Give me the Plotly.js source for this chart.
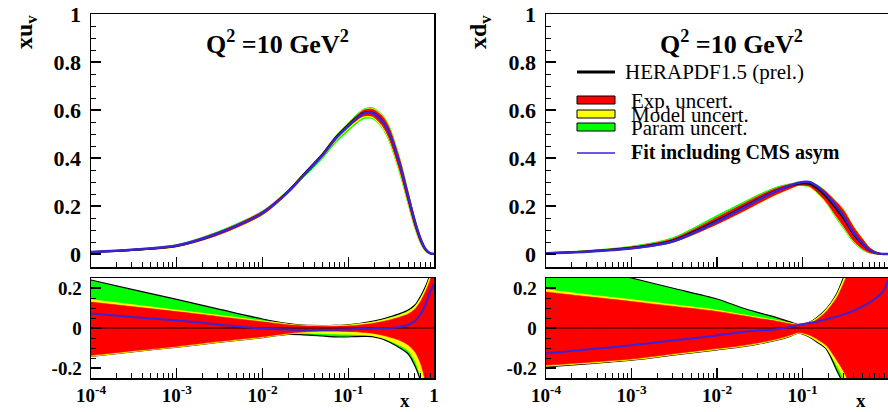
<!DOCTYPE html>
<html><head><meta charset="utf-8">
<script src="https://cdn.plot.ly/plotly-3.0.1.min.js"></script>
<style>html,body{margin:0;padding:0;background:#fff}#chart{width:888px;height:412px}</style>
</head><body><div id="chart"></div>
<script>
// x grid shared by all curves
const X = [1e-4, 3e-4, 1e-3, 3e-3, 0.01, 0.02, 0.03, 0.05, 0.07, 0.09, 0.12, 0.15, 0.19, 0.25, 0.3, 0.4, 0.5, 0.6, 0.7, 0.8, 0.9, 1.0];

// central values xu_v and xd_v at Q^2 = 10 GeV^2
const XUV = [0.008, 0.017, 0.034, 0.085, 0.172, 0.262, 0.33, 0.415, 0.482, 0.522, 0.563, 0.588, 0.59, 0.555, 0.505, 0.37, 0.237, 0.13, 0.058, 0.018, 0.003, 0];
const XDV = [0.004, 0.011, 0.026, 0.056, 0.14, 0.195, 0.228, 0.265, 0.283, 0.293, 0.293, 0.272, 0.238, 0.187, 0.15, 0.08, 0.042, 0.017, 0.006, 0.0015, 0.0002, 0];

// relative uncertainties, u_v
const U_GRN_HI = [0.24, 0.193, 0.143, 0.096, 0.045, 0.022, 0.014, 0.012, 0.013, 0.015, 0.02, 0.026, 0.033, 0.045, 0.055, 0.072, 0.09, 0.115, 0.16, 0.21, 0.27, 0.4];
const U_YEL_HI = [0.14, 0.115, 0.088, 0.062, 0.034, 0.018, 0.012, 0.01, 0.011, 0.012, 0.016, 0.021, 0.027, 0.038, 0.047, 0.063, 0.08, 0.105, 0.145, 0.195, 0.255, 0.37];
const U_RED_HI = [0.13, 0.107, 0.082, 0.058, 0.031, 0.016, 0.011, 0.009, 0.009, 0.01, 0.013, 0.017, 0.022, 0.032, 0.04, 0.055, 0.07, 0.095, 0.135, 0.185, 0.24, 0.35];
const U_RED_LO = [-0.137, -0.115, -0.092, -0.068, -0.044, -0.027, -0.02, -0.016, -0.016, -0.017, -0.019, -0.022, -0.026, -0.036, -0.045, -0.062, -0.085, -0.12, -0.18, -0.28, -0.45, -0.8];
const U_YEL_LO = [-0.14, -0.117, -0.094, -0.07, -0.046, -0.029, -0.024, -0.026, -0.028, -0.029, -0.03, -0.032, -0.036, -0.048, -0.06, -0.085, -0.11, -0.16, -0.24, -0.38, -0.6, -1.0];
const U_GRN_LO = [-0.142, -0.119, -0.096, -0.072, -0.048, -0.032, -0.034, -0.04, -0.044, -0.045, -0.043, -0.042, -0.043, -0.055, -0.07, -0.1, -0.13, -0.19, -0.27, -0.45, -0.7, -1.1];
const U_FIT = [0.072, 0.055, 0.038, 0.018, -0.003, -0.008, -0.01, -0.01, -0.009, -0.008, -0.006, -0.005, -0.004, -0.002, 0.0, 0.005, 0.015, 0.035, 0.07, 0.12, 0.18, 0.22];

// relative uncertainties, d_v
const D_GRN_HI = [0.36, 0.31, 0.25, 0.2, 0.145, 0.1, 0.078, 0.052, 0.032, 0.018, 0.028, 0.055, 0.095, 0.17, 0.25, 0.4, 0.55, 0.7, 0.85, 1.0, 1.2, 1.4];
const D_YEL_HI = [0.19, 0.165, 0.14, 0.115, 0.087, 0.065, 0.052, 0.036, 0.024, 0.016, 0.026, 0.05, 0.09, 0.16, 0.235, 0.38, 0.52, 0.66, 0.8, 0.95, 1.1, 1.3];
const D_RED_HI = [0.18, 0.157, 0.133, 0.109, 0.083, 0.062, 0.049, 0.034, 0.022, 0.015, 0.023, 0.045, 0.083, 0.15, 0.22, 0.36, 0.5, 0.64, 0.78, 0.92, 1.05, 1.2];
const D_RED_LO = [-0.186, -0.172, -0.155, -0.13, -0.103, -0.087, -0.075, -0.055, -0.038, -0.022, -0.035, -0.057, -0.088, -0.16, -0.215, -0.33, -0.45, -0.58, -0.72, -0.88, -1.05, -1.2];
const D_YEL_LO = [-0.19, -0.175, -0.158, -0.133, -0.106, -0.09, -0.078, -0.058, -0.04, -0.024, -0.04, -0.065, -0.097, -0.18, -0.245, -0.37, -0.5, -0.64, -0.8, -0.95, -1.1, -1.3];
const D_GRN_LO = [-0.194, -0.179, -0.161, -0.136, -0.109, -0.093, -0.081, -0.061, -0.043, -0.026, -0.045, -0.072, -0.105, -0.21, -0.28, -0.42, -0.57, -0.72, -0.88, -1.05, -1.2, -1.4];
const D_FIT = [-0.128, -0.108, -0.086, -0.063, -0.037, -0.02, -0.013, -0.006, 0.005, 0.015, 0.025, 0.033, 0.043, 0.057, 0.067, 0.087, 0.107, 0.125, 0.145, 0.165, 0.19, 0.24];

// tick labels
const XTICK_VALS_L = [1e-4, 1e-3, 1e-2, 1e-1, 1];
const XTICK_TEXT_L = ['10<sup>-4</sup>', '10<sup>-3</sup>', '10<sup>-2</sup>', '10<sup>-1</sup>', '1'];
const XTICK_VALS_R = [1e-4, 1e-3, 1e-2, 1e-1];
const XTICK_TEXT_R = ['10<sup>-4</sup>', '10<sup>-3</sup>', '10<sup>-2</sup>', '10<sup>-1</sup>'];
const YTOP_VALS = [0, 0.2, 0.4, 0.6, 0.8, 1];
const YTOP_TEXT = ['0', '0.2', '0.4', '0.6', '0.8', '1'];
const YBOT_VALS = [-0.2, 0, 0.2];
const YBOT_TEXT = ['-0.2', '0', '0.2'];
const LEGEND_TEXT = ['HERAPDF1.5 (prel.)', 'Exp. uncert.', 'Model uncert.', 'Param uncert.', 'Fit including CMS asym'];

const MINOR = [];
for (let e = -4; e < 0; e++) for (let m = 2; m <= 9; m++) MINOR.push(m * Math.pow(10, e));

const RED = '#ff0000', YEL = '#ffff00', GRN = '#00ff00', BLUE = '#3a22d8';
const FONT = 'Liberation Serif, Times New Roman, serif';

const traces = [];
const scale = (c, r) => c.map((v, i) => v * (1 + r[i]));
function line(xa, ya, y, color, width) {
  traces.push({x: X, y: y, xaxis: xa, yaxis: ya, type: 'scatter', mode: 'lines',
    line: {color: color, width: width, shape: 'spline', smoothing: 0.8}, hoverinfo: 'skip', showlegend: false});
}
function band(xa, ya, lo, hi, fill, edge, ew) {
  traces.push({x: X, y: lo, xaxis: xa, yaxis: ya, type: 'scatter', mode: 'lines',
    line: {color: edge, width: ew, shape: 'spline', smoothing: 0.8}, hoverinfo: 'skip', showlegend: false});
  traces.push({x: X, y: hi, xaxis: xa, yaxis: ya, type: 'scatter', mode: 'lines', fill: 'tonexty', fillcolor: fill,
    line: {color: edge, width: ew, shape: 'spline', smoothing: 0.8}, hoverinfo: 'skip', showlegend: false});
}
function panel(xt, yt, xb, yb, C, GL, GH, YL, YH, RL, RH, FIT) {
  // top: absolute
  band(xt, yt, scale(C, GL), scale(C, GH), GRN, GRN, 1);
  band(xt, yt, scale(C, YL), scale(C, YH), YEL, YEL, 1);
  band(xt, yt, scale(C, RL), scale(C, RH), RED, RED, 1);
  line(xt, yt, C, '#000', 2);
  line(xt, yt, scale(C, FIT), BLUE, 2.5);
  // bottom: relative
  band(xb, yb, GL, GH, GRN, '#000', 1.2);
  band(xb, yb, YL, YH, YEL, YEL, 1.5);
  band(xb, yb, RL, RH, RED, RED, 0.5);
  line(xb, yb, X.map(() => 0), '#000', 1);
  line(xb, yb, FIT, BLUE, 2);
}
panel('x', 'y', 'x2', 'y2', XUV, U_GRN_LO, U_GRN_HI, U_YEL_LO, U_YEL_HI, U_RED_LO, U_RED_HI, U_FIT);
panel('x3', 'y3', 'x4', 'y4', XDV, D_GRN_LO, D_GRN_HI, D_YEL_LO, D_YEL_HI, D_RED_LO, D_RED_HI, D_FIT);

const W = 888, H = 412;
const px = p => p / W, py = p => 1 - p / H;
const L_DOM = [px(91), px(434)], R_DOM = [px(546), 1];
const T_DOM = [py(267), py(14)], B_DOM = [py(378), py(278)];

function xAxis(dom, anchor, show, tv, tt) {
  return {type: 'log', domain: dom, anchor: anchor, range: [-4, 0], showline: true, mirror: true,
    linecolor: '#000', linewidth: 1.5, ticks: 'inside', ticklen: 10, tickwidth: 1.2, tickcolor: '#000',
    tickmode: 'array', tickvals: tv, ticktext: tt, showticklabels: show,
    tickfont: {family: FONT, size: 19, color: '#000', weight: 'bold'},
    minor: {ticks: 'inside', ticklen: 5, tickwidth: 1, tickcolor: '#000', tickmode: 'array', tickvals: MINOR, showgrid: false},
    showgrid: false, zeroline: false, fixedrange: true};
}
function yAxis(dom, anchor, range, tv, tt, fs) {
  return {domain: dom, anchor: anchor, range: range, showline: true, mirror: true,
    linecolor: '#000', linewidth: 1.5, ticks: 'inside', ticklen: 10, tickwidth: 1.2, tickcolor: '#000',
    tickmode: 'array', tickvals: tv, ticktext: tt, ticklabelstandoff: 4,
    tickfont: {family: FONT, size: fs, color: '#000', weight: 'bold'},
    minor: {ticks: 'inside', ticklen: 5, tickwidth: 1, tickcolor: '#000', dtick: 0.05, tick0: 0, showgrid: false},
    showgrid: false, zeroline: false, fixedrange: true};
}

const ann = [];
function text(t, x, y, size, bold, xanchor, angle) {
  ann.push({text: t, x: px(x), y: py(y), xref: 'paper', yref: 'paper', showarrow: false,
    xanchor: xanchor || 'center', yanchor: 'middle', textangle: angle || 0,
    font: {family: FONT, size: size, color: '#000', weight: bold ? 'bold' : 'normal'}});
}
text('Q<sup>2</sup> =10 GeV<sup>2</sup>', 277, 43, 26, true);
text('Q<sup>2</sup> =10 GeV<sup>2</sup>', 731, 43, 26, true);
text('xu<sub>v</sub>', 26, 32, 24, true, 'center', -90);
text('xd<sub>v</sub>', 480, 32, 24, true, 'center', -90);
text('x', 405, 400, 19, true);
text('x', 861, 400, 19, true);
text(LEGEND_TEXT[0], 623, 72, 21, false, 'left');
text(LEGEND_TEXT[1], 629, 101, 21, false, 'left');
text(LEGEND_TEXT[2], 629, 115, 21, false, 'left');
text(LEGEND_TEXT[3], 629, 128, 21, false, 'left');
text(LEGEND_TEXT[4], 629, 153, 20, true, 'left');

const shp = [
  {type: 'line', xref: 'paper', yref: 'paper', x0: px(577), x1: px(615), y0: py(72), y1: py(72), line: {color: '#000', width: 3}},
  {type: 'rect', xref: 'paper', yref: 'paper', x0: px(577), x1: px(615), y0: py(104), y1: py(96), fillcolor: RED, line: {color: '#000', width: 1}},
  {type: 'rect', xref: 'paper', yref: 'paper', x0: px(577), x1: px(615), y0: py(118), y1: py(110), fillcolor: YEL, line: {color: '#000', width: 1}},
  {type: 'rect', xref: 'paper', yref: 'paper', x0: px(577), x1: px(615), y0: py(131), y1: py(123), fillcolor: GRN, line: {color: '#000', width: 1}},
  {type: 'line', xref: 'paper', yref: 'paper', x0: px(577), x1: px(615), y0: py(153), y1: py(153), line: {color: BLUE, width: 1.5}}
];

const layout = {
  width: W, height: H, margin: {l: 0, r: 0, t: 0, b: 0}, paper_bgcolor: '#fff', plot_bgcolor: '#fff',
  showlegend: false,
  xaxis: xAxis(L_DOM, 'y', false, XTICK_VALS_L, XTICK_TEXT_L),
  yaxis: yAxis(T_DOM, 'x', [-0.054, 1.0], YTOP_VALS, YTOP_TEXT, 22),
  xaxis2: xAxis(L_DOM, 'y2', true, XTICK_VALS_L, XTICK_TEXT_L),
  yaxis2: yAxis(B_DOM, 'x2', [-0.25, 0.25], YBOT_VALS, YBOT_TEXT, 19),
  xaxis3: xAxis(R_DOM, 'y3', false, XTICK_VALS_L, XTICK_TEXT_L),
  yaxis3: yAxis(T_DOM, 'x3', [-0.054, 1.0], YTOP_VALS, YTOP_TEXT, 22),
  xaxis4: xAxis(R_DOM, 'y4', true, XTICK_VALS_R, XTICK_TEXT_R),
  yaxis4: yAxis(B_DOM, 'x4', [-0.25, 0.25], YBOT_VALS, YBOT_TEXT, 19),
  annotations: ann, shapes: shp
};
Plotly.newPlot('chart', traces, layout, {staticPlot: true, displayModeBar: false});
</script></body></html>
